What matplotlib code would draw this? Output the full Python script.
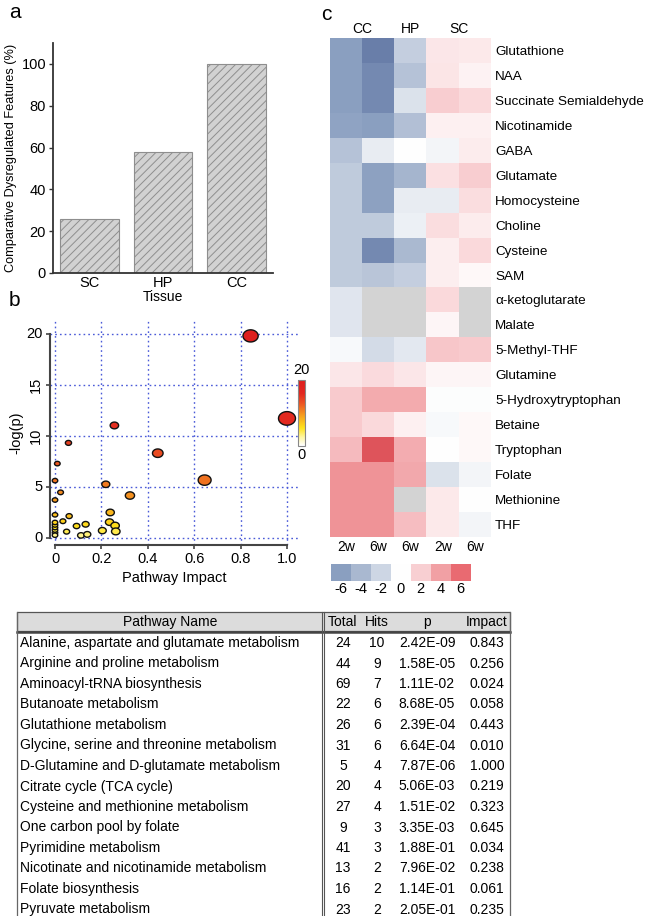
import numpy as np
import matplotlib
matplotlib.use("Agg")
import matplotlib.pyplot as plt
from matplotlib.colors import LinearSegmentedColormap, PowerNorm, Normalize
from matplotlib.path import Path
from matplotlib.markers import MarkerStyle
from matplotlib.patches import Rectangle
import matplotlib.colorbar as mcolorbar

plt.rcParams['font.family'] = ['Liberation Sans', 'DejaVu Sans']
plt.rcParams['hatch.linewidth'] = 0.7

# ---------------- data ----------------
# panel a
tissues = ['SC', 'HP', 'CC']
dysregulated_pct = [26, 58, 100]

# panel b (pathway impact vs -log(p))
impact_pts = [0.843, 0.256, 0.024, 0.058, 0.443, 0.010, 1.000, 0.219, 0.323, 0.645,
              0.034, 0.238, 0.061, 0.235,
              0.0, 0.0, 0.0, 0.0, 0.0, 0.0, 0.0, 0.0, 0.0,
              0.132, 0.259, 0.093, 0.050, 0.204, 0.262, 0.112, 0.139]
neglogp_pts = [19.84, 11.06, 4.50, 9.35, 8.34, 7.32, 11.75, 5.29, 4.19, 5.70,
               1.67, 2.53, 2.17, 1.58,
               5.65, 3.75, 2.30, 1.55, 1.30, 1.05, 0.80, 0.55, 0.30,
               1.37, 1.24, 1.20, 0.65, 0.75, 0.67, 0.28, 0.38]

# panel c heatmap
metabolites = ['Glutathione', 'NAA', 'Succinate Semialdehyde', 'Nicotinamide', 'GABA',
               'Glutamate', 'Homocysteine', 'Choline', 'Cysteine', 'SAM',
               'α-ketoglutarate', 'Malate', '5-Methyl-THF', 'Glutamine',
               '5-Hydroxytryptophan', 'Betaine', 'Tryptophan', 'Folate',
               'Methionine', 'THF']
heat_cols = ['2w', '6w', '6w', '2w', '6w']
heat_groups = ['CC', 'HP', 'SC']
heat_group_cols = [(0, 1), (2, 2), (3, 4)]
nan = np.nan
heat_values = [
    [-6.0, -7.5, -2.5, 1.0, 0.9],
    [-6.0, -7.0, -3.3, 1.1, 0.5],
    [-6.0, -7.0, -1.4, 2.1, 1.6],
    [-5.6, -6.0, -3.5, 0.6, 0.6],
    [-3.3, -0.9, 0.0, -0.5, 0.8],
    [-2.7, -5.8, -4.2, 1.3, 2.1],
    [-2.7, -5.8, -0.9, -0.9, 1.4],
    [-2.7, -2.7, -0.7, 1.4, 0.8],
    [-2.7, -7.0, -3.9, 0.7, 1.6],
    [-2.7, -3.1, -2.5, 0.7, 0.3],
    [-1.2, nan, nan, 1.6, nan],
    [-1.2, nan, nan, 0.4, nan],
    [-0.3, -1.7, -1.1, 2.4, 2.2],
    [1.0, 1.5, 1.0, 0.4, 0.4],
    [2.2, 3.6, 3.6, -0.1, -0.1],
    [2.2, 1.6, 0.6, -0.3, 0.3],
    [2.9, 7.2, 3.5, 0.0, 0.3],
    [4.5, 4.5, 3.7, -1.4, -0.5],
    [4.5, 4.5, nan, 0.9, 0.0],
    [4.5, 4.5, 2.8, 0.9, -0.5],
]
legend_levels = [-6, -4, -2, 0, 2, 4, 6]

# table
pathway_names = ['Alanine, aspartate and glutamate metabolism', 'Arginine and proline metabolism',
                 'Aminoacyl-tRNA biosynthesis', 'Butanoate metabolism', 'Glutathione metabolism',
                 'Glycine, serine and threonine metabolism', 'D-Glutamine and D-glutamate metabolism',
                 'Citrate cycle (TCA cycle)', 'Cysteine and methionine metabolism',
                 'One carbon pool by folate', 'Pyrimidine metabolism',
                 'Nicotinate and nicotinamide metabolism', 'Folate biosynthesis', 'Pyruvate metabolism']
pathway_total = [24, 44, 69, 22, 26, 31, 5, 20, 27, 9, 41, 13, 16, 23]
pathway_hits = [10, 9, 7, 6, 6, 6, 4, 4, 4, 3, 3, 2, 2, 2]
pathway_p = [2.42e-09, 1.58e-05, 1.11e-02, 8.68e-05, 2.39e-04, 6.64e-04, 7.87e-06,
             5.06e-03, 1.51e-02, 3.35e-03, 1.88e-01, 7.96e-02, 1.14e-01, 2.05e-01]
pathway_impact = [0.843, 0.256, 0.024, 0.058, 0.443, 0.010, 1.000, 0.219, 0.323, 0.645,
                  0.034, 0.238, 0.061, 0.235]
table_header = ['Pathway Name', 'Total', 'Hits', 'p', 'Impact']

# ---------------- figure ----------------
W, H = 650, 916
fig = plt.figure(figsize=(W / 100, H / 100), dpi=100, facecolor='white')


def fax(x0, y0, x1, y1):
    """axes from pixel box (left, top, right, bottom)"""
    return fig.add_axes([x0 / W, 1 - y1 / H, (x1 - x0) / W, (y1 - y0) / H])


# ---------------- panel a ----------------
ax_a = fax(53, 43, 273, 273)
ax_a.bar(range(len(tissues)), dysregulated_pct, width=0.8, color='#d2d2d2',
         edgecolor='#8e8e8e', hatch='////', linewidth=0.8)
ax_a.set_xlim(-0.5, 2.5)
ax_a.set_ylim(0, 110)
ax_a.set_yticks([0, 20, 40, 60, 80, 100])
ax_a.set_xticks(range(len(tissues)))
ax_a.set_xticklabels(tissues)
ax_a.tick_params(axis='x', length=0, pad=2, labelsize=10.5)
ax_a.tick_params(axis='y', length=3, width=1, pad=2, labelsize=10.5, color='#333333')
for s in ['top', 'right']:
    ax_a.spines[s].set_visible(False)
for s in ['left', 'bottom']:
    ax_a.spines[s].set_linewidth(1.3)
    ax_a.spines[s].set_color('#333333')
ax_a.set_ylabel('Comparative Dysregulated Features (%)', fontsize=9.2, labelpad=3)
ax_a.set_xlabel('Tissue', fontsize=10, labelpad=0)

# ---------------- panel b ----------------
heat_cmap = LinearSegmentedColormap.from_list('heat', [
    (0.0, '#ffffff'), (0.12, '#fff6a8'), (0.27, '#ffe21a'), (0.47, '#f59a1e'),
    (0.64, '#ec5522'), (0.8, '#e2261f'), (1.0, '#dd1e1e')])
pnorm = PowerNorm(gamma=0.45, vmin=0, vmax=20)

ax_b = fax(49.9, 321, 298.6, 545.4)
theta = np.linspace(0, 2 * np.pi, 64)
ell = Path(np.column_stack([np.cos(theta), 0.8 * np.sin(theta)]), closed=True)
imp = np.array(impact_pts)
nlp = np.array(neglogp_pts)
order = np.argsort(imp)
sizes = ((5.5 + 11.5 * imp) * 0.72) ** 2
ax_b.scatter(imp[order], nlp[order], s=sizes[order], c=nlp[order], cmap=heat_cmap, norm=pnorm,
             marker=MarkerStyle(ell), edgecolors='#111111', linewidths=1.0, zorder=3)
ax_b.set_xlim(-0.022, 1.05)
ax_b.set_ylim(-0.7, 21.3)
ax_b.set_xticks([0, 0.2, 0.4, 0.6, 0.8, 1.0])
ax_b.set_xticklabels(['0', '0.2', '0.4', '0.6', '0.8', '1.0'])
ax_b.set_yticks([0, 5, 10, 15, 20])
ax_b.grid(True, color='#4a5ad8', linestyle=(0, (1.2, 2.2)), linewidth=1.0, zorder=0)
ax_b.set_axisbelow(True)
for s in ['top', 'right']:
    ax_b.spines[s].set_visible(False)
ax_b.spines['left'].set_bounds(0, 20)
ax_b.spines['bottom'].set_bounds(0, 1.0)
for s in ['left', 'bottom']:
    ax_b.spines[s].set_linewidth(1.5)
    ax_b.spines[s].set_color('#444444')
ax_b.tick_params(length=3, width=1.2, color='#444444', labelsize=10.5, pad=2)
for lab, v in zip(ax_b.get_yticklabels(), [0, 5, 10, 15, 20]):
    lab.set_rotation(90 if v in (10, 15) else 0)
    lab.set_va('center')
ax_b.set_xlabel('Pathway Impact', fontsize=10.5, labelpad=3)
ax_b.set_ylabel('-log(p)', fontsize=10.5, labelpad=2)

ax_bc = fax(298, 380, 305, 445.7)
cb = mcolorbar.ColorbarBase(ax_bc, cmap=heat_cmap, norm=Normalize(0, 20), orientation='vertical')
cb.set_ticks([])
cb.outline.set_edgecolor('#888888')
cb.outline.set_linewidth(0.8)
ax_bc.text(0.5, 1.04, '20', transform=ax_bc.transAxes, ha='center', va='bottom', fontsize=10.5)
ax_bc.text(0.5, -0.04, '0', transform=ax_bc.transAxes, ha='center', va='top', fontsize=10.5)

# ---------------- panel c ----------------
div_cmap = LinearSegmentedColormap.from_list('div', [
    (0.0, '#5e74a2'), (0.125, '#8a9fc0'), (0.25, '#a9b8d0'), (0.375, '#cdd6e4'),
    (0.5, '#ffffff'), (0.625, '#f9d0d3'), (0.75, '#f2a2a6'), (0.875, '#ea6c72'),
    (1.0, '#d8474e')])
div_cmap.set_bad('#d3d3d3')
dnorm = Normalize(-8, 8)

ax_c = fax(330, 38, 491, 537)
hv = np.ma.masked_invalid(np.array(heat_values, dtype=float))
ax_c.imshow(hv, cmap=div_cmap, norm=dnorm, aspect='auto', interpolation='nearest')
ax_c.set_yticks(range(len(metabolites)))
ax_c.set_yticklabels(metabolites)
ax_c.yaxis.tick_right()
ax_c.set_xticks(range(len(heat_cols)))
ax_c.set_xticklabels(heat_cols)
ax_c.tick_params(length=0, labelsize=9.7, pad=3)
ax_c.tick_params(axis='x', pad=2, labelsize=10)
for s in ax_c.spines.values():
    s.set_visible(False)
for g, (c0, c1) in zip(heat_groups, heat_group_cols):
    ax_c.text((c0 + c1) / 2, -0.6, g, ha='center', va='bottom', fontsize=10)

ax_cl = fax(331, 564, 470, 581)
ax_cl.imshow(np.array([legend_levels], dtype=float), cmap=div_cmap, norm=dnorm,
             aspect='auto', interpolation='nearest')
ax_cl.set_xticks(range(len(legend_levels)))
ax_cl.set_xticklabels([str(v) for v in legend_levels])
ax_cl.set_yticks([])
ax_cl.tick_params(length=0, labelsize=10.5, pad=1)
for s in ax_cl.spines.values():
    s.set_visible(False)

# ---------------- table ----------------
ax_t = fig.add_axes([0, 0, 1, 1], zorder=-1)
ax_t.set_xlim(0, W)
ax_t.set_ylim(H, 0)
ax_t.axis('off')
tl, tdiv, tr = 17, 323, 510
htop, hbot = 612, 631
row0, rstep = 643, 20.5
fs_t = 10
ax_t.add_patch(Rectangle((tl, htop), tr - tl, hbot - htop, facecolor='#dcdcdc',
                         edgecolor='#555555', linewidth=0.9))
ax_t.plot([tl, tr], [hbot + 0.5, hbot + 0.5], color='#444444', lw=1.8)
ax_t.plot([tl, tl], [htop, H], color='#666666', lw=0.9)
ax_t.plot([tr, tr], [htop, H], color='#666666', lw=0.9)
ax_t.plot([tdiv - 1.2, tdiv - 1.2], [htop, H], color='#555555', lw=0.8)
ax_t.plot([tdiv + 1.2, tdiv + 1.2], [htop, H], color='#555555', lw=0.8)
col_x = [170, 343, 377, 427, 487]
hy = (htop + hbot) / 2 + 0.5
for x, h in zip(col_x, table_header):
    ax_t.text(x, hy, h, ha='center', va='center', fontsize=fs_t)
for i, name in enumerate(pathway_names):
    y = row0 + i * rstep
    ax_t.text(20, y, name, ha='left', va='center', fontsize=fs_t)
    ax_t.text(col_x[1], y, str(pathway_total[i]), ha='center', va='center', fontsize=fs_t)
    ax_t.text(col_x[2], y, str(pathway_hits[i]), ha='center', va='center', fontsize=fs_t)
    ax_t.text(col_x[3], y, f"{pathway_p[i]:.2E}", ha='center', va='center', fontsize=fs_t)
    ax_t.text(col_x[4], y, f"{pathway_impact[i]:.3f}", ha='center', va='center', fontsize=fs_t)

# ---------------- panel letters ----------------
ax_t.text(9, 13, 'a', fontsize=15, ha='left', va='center')
ax_t.text(9, 301, 'b', fontsize=15, ha='left', va='center')
ax_t.text(321, 14, 'c', fontsize=15, ha='left', va='center')

fig.savefig('out.png', dpi=100, facecolor='white')
